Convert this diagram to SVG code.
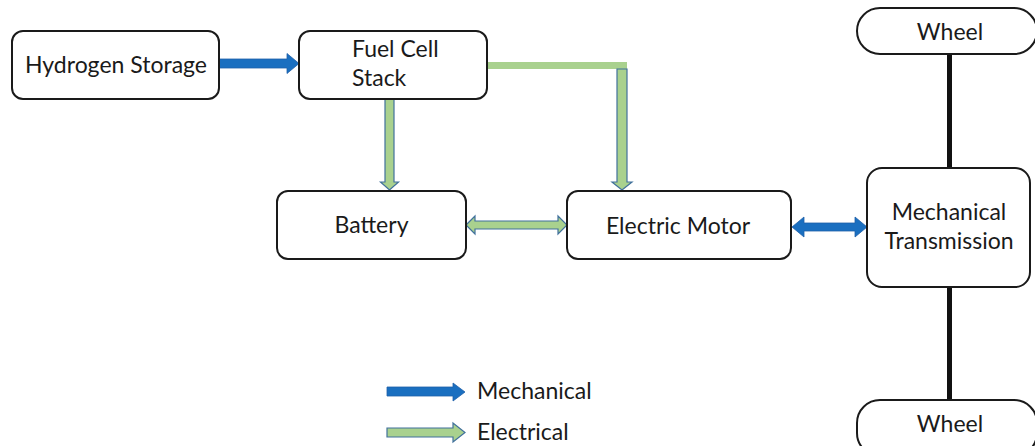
<svg xmlns="http://www.w3.org/2000/svg" width="1035" height="446" viewBox="0 0 1035 446">
<style>
.box{fill:#fff;stroke:#1a1a1a;stroke-width:2}
.t{font-family:Lato,"Open Sans","Liberation Sans",sans-serif;font-size:23px;fill:#1a1a1a}
.c{text-anchor:middle}
.mech{fill:#1a6fc0;stroke:#2060a8;stroke-width:0.8}
.elec{fill:#a9d18e;stroke:#41719c;stroke-width:1.2}
.shaft{stroke:#111;stroke-width:5}
</style>
<rect width="1035" height="446" fill="#fff"/>
<g id="connectors">
<polygon class="mech" points="219,59 287,59 287,53.5 299,63.5 287,73.5 287,68 219,68"/>
<rect x="487" y="62" width="140" height="7" fill="#a9d18e"/>
<polygon class="elec" points="617,69 627,69 627,182 632,182 622,190 612,182 617,182"/>
<polygon class="elec" points="385,99 394,99 394,182 398.5,182 389.5,190 380.5,182 385,182"/>
<polygon class="elec" points="466,225 475,216 475,221 558,221 558,216 567,225 558,234 558,229 475,229 475,234"/>
<polygon class="mech" points="792,227 804,217 804,223 855,223 855,217 867,227 855,237 855,231 804,231 804,237"/>
<line class="shaft" x1="949.5" y1="54" x2="949.5" y2="168"/>
<line class="shaft" x1="949.5" y1="287" x2="949.5" y2="400"/>
</g>
<g id="hydrogen-storage">
<rect class="box" x="12" y="31" width="207" height="68" rx="11"/>
<text class="t c" x="116" y="73">Hydrogen Storage</text>
</g>
<g id="fuel-cell-stack">
<rect class="box" x="299" y="31" width="188" height="68" rx="11"/>
<text class="t" x="352" y="57">Fuel Cell</text>
<text class="t" x="352" y="86">Stack</text>
</g>
<g id="battery">
<rect class="box" x="277" y="191" width="189" height="68" rx="11"/>
<text class="t c" x="371.5" y="233">Battery</text>
</g>
<g id="electric-motor">
<rect class="box" x="567" y="191" width="224" height="68" rx="11"/>
<text class="t c" x="678" y="234">Electric Motor</text>
</g>
<g id="mechanical-transmission">
<rect class="box" x="867" y="168" width="163" height="119" rx="15"/>
<text class="t c" x="949" y="220">Mechanical</text>
<text class="t c" x="949" y="249">Transmission</text>
</g>
<g id="wheel-top">
<rect class="box" x="857" y="8" width="180" height="46" rx="23"/>
<text class="t c" x="950" y="40">Wheel</text>
</g>
<g id="wheel-bottom">
<rect class="box" x="857" y="400" width="180" height="56" rx="23"/>
<text class="t c" x="950" y="432">Wheel</text>
</g>
<g id="legend">
<polygon class="mech" points="387,387 453,387 453,383 465,392 453,401 453,396 387,396"/>
<text class="t" x="477" y="399">Mechanical</text>
<polygon class="elec" points="387,428 453,428 453,423 465,432.5 453,442 453,437 387,437"/>
<text class="t" x="477" y="440">Electrical</text>
</g>
</svg>
